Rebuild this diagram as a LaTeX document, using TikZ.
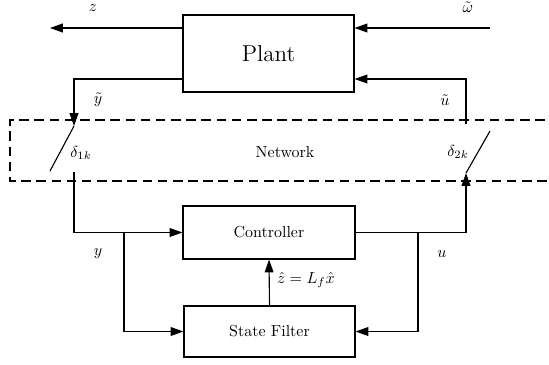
\documentclass[tikz,border=0pt]{standalone}
\usetikzlibrary{arrows.meta}
\begin{document}
\begin{tikzpicture}[x=0.022cm,y=-0.022cm,
  line width=0.7pt,
  blk/.style={draw, line width=0.7pt, inner sep=0pt},
  arr/.style={-{Triangle[length=8pt,width=5.5pt]}},
  lbl/.style={inner sep=1pt},
  net/.style={dash pattern=on 6pt off 3.5pt, line width=0.7pt}]
\useasboundingbox (0,0) rectangle (549,364);
% blocks
\node[blk, minimum width=171*0.022cm, minimum height=77*0.022cm, font=\Large] (plant) at (268.5,53.5) {Plant};
\node[blk, minimum width=172*0.022cm, minimum height=53*0.022cm] (ctrl) at (269,232.5) {Controller};
\node[blk, minimum width=171*0.022cm, minimum height=51*0.022cm] (filt) at (269.5,331.5) {State Filter};
% network region
\draw[net] (560,120) -- (10,120) -- (10,181) -- (560,181);
\node[lbl] (netlbl) at (285,152) {Network};
% coordinates
\coordinate (zend) at (50,28);
\coordinate (wstart) at (490,28);
\coordinate (ytl) at (74,79);
\coordinate (s1in) at (74,126);
\coordinate (s1blade) at (50,171);
\coordinate (s1out) at (74,172);
\coordinate (ybr) at (124,232.5);
\coordinate (ybot) at (124,331.5);
\coordinate (s2in) at (466,173);
\coordinate (s2blade) at (490,131);
\coordinate (s2out) at (466,124);
\coordinate (utr) at (466,79);
\coordinate (ubr) at (418,232.5);
\coordinate (ubot) at (418,331.5);
% plant I/O
\draw[arr] (plant.west |- zend) -- (zend);
\draw[arr] (wstart) -- (wstart -| plant.east);
\draw[arr] (plant.west |- ytl) -- (ytl) -- (s1in);
\draw[arr] (s2out) -- (utr) -- (utr -| plant.east);
% switches
\draw (s1in) -- (s1blade);
\draw (s2in) -- (s2blade);
% controller loop
\draw[arr] (s1out) |- (ctrl.west);
\draw[arr] (ctrl.east) -| (s2in);
\draw[arr] (ybr) -- (ybot) -- (filt.west);
\draw[arr] (ubr) -- (ubot) -- (filt.east);
\draw[arr] (filt.north) -- (ctrl.south);
% labels
\node[lbl] (zl) at (93,8) {$z$};
\node[lbl] (wl) at (468,7) {$\tilde{\omega}$};
\node[lbl] (yt) at (98,100) {$\tilde{y}$};
\node[lbl] (ut) at (445,100) {$\tilde{u}$};
\node[lbl] (d1) at (81,153) {$\delta_{1k}$};
\node[lbl] (d2) at (458,152) {$\delta_{2k}$};
\node[lbl] (yl) at (98,254) {$y$};
\node[lbl] (ul) at (442,254) {$u$};
\node[lbl, anchor=west] (zh) at (275,280) {$\hat{z}=L_f\hat{x}$};
\end{tikzpicture}
\end{document}
